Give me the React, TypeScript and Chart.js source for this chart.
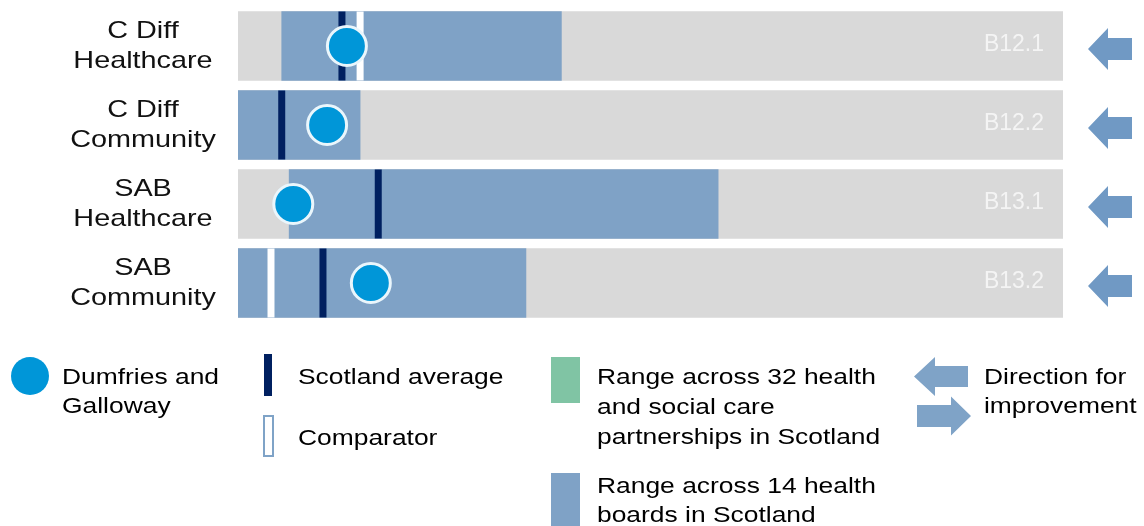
import { useEffect, useRef } from 'react';
import { Chart, registerables } from 'chart.js';

Chart.register(...registerables);

// Indicator rows
const categories: string[][] = [
  ['C Diff', 'Healthcare'],
  ['C Diff', 'Community'],
  ['SAB', 'Healthcare'],
  ['SAB', 'Community'],
];
const indicatorCodes = ['B12.1', 'B12.2', 'B13.1', 'B13.2'];

// Values on a common 0–100 scale
const scaleMin = 0;
const scaleMax = 100;
const boardRangeLow = [5.3, 0, 6.2, 0];
const boardRangeHigh = [39.2, 14.8, 58.2, 34.9];
const scotlandAverage = [12.6, 5.3, 17.0, 10.3];
const comparator: (number | null)[] = [14.8, null, null, 4.0];
const dumfriesGalloway = [13.2, 10.8, 6.7, 16.1];
// 'lower' = lower is better (arrow points left)
const improvementDirection = ['lower', 'lower', 'lower', 'lower'];

const FONT = '"Liberation Sans", Arial, Helvetica, sans-serif';
const TEXT_STRETCH = 1.2;

const COLORS = {
  track: '#d9d9d9',
  boardRange: '#7fa2c6',
  partnershipRange: '#80c4a4',
  average: '#002060',
  comparator: '#ffffff',
  dg: '#0096d8',
  dgBorder: '#eaf6fc',
  arrow: '#7099c4',
  legendArrow: '#7fa3c7',
  code: '#f4f4f4',
  text: '#111111',
};

function stretchedText(
  ctx: CanvasRenderingContext2D,
  text: string,
  x: number,
  y: number,
  size: number,
  align: CanvasTextAlign,
  color: string,
  sx = TEXT_STRETCH,
) {
  ctx.save();
  ctx.font = `${size}px ${FONT}`;
  ctx.fillStyle = color;
  ctx.textAlign = align;
  ctx.textBaseline = 'alphabetic';
  ctx.translate(x, y);
  ctx.scale(sx, 1);
  ctx.fillText(text, 0, 0);
  ctx.restore();
}

function drawArrow(
  ctx: CanvasRenderingContext2D,
  tipX: number,
  tailX: number,
  cy: number,
  headLen: number,
  headH: number,
  shaftH: number,
  color: string,
) {
  const dir = tailX > tipX ? 1 : -1;
  const back = tipX + dir * headLen;
  ctx.save();
  ctx.fillStyle = color;
  ctx.beginPath();
  ctx.moveTo(tipX, cy);
  ctx.lineTo(back, cy - headH / 2);
  ctx.lineTo(back, cy - shaftH / 2);
  ctx.lineTo(tailX, cy - shaftH / 2);
  ctx.lineTo(tailX, cy + shaftH / 2);
  ctx.lineTo(back, cy + shaftH / 2);
  ctx.lineTo(back, cy + headH / 2);
  ctx.closePath();
  ctx.fill();
  ctx.restore();
}

// Row labels, indicator codes, direction arrows and the key below the bars
const decorPlugin = {
  id: 'indicatorDecor',
  afterDraw(chart: any) {
    const { ctx } = chart;
    const x = chart.scales.x;
    const y = chart.scales.y;
    const right = x.getPixelForValue(scaleMax);

    categories.forEach((lines, i) => {
      const cy = y.getPixelForValue(i);
      lines.forEach((t, k) => stretchedText(ctx, t, 143, cy - 8 + k * 30, 24, 'center', COLORS.text));

      ctx.save();
      ctx.font = `23px ${FONT}`;
      ctx.fillStyle = COLORS.code;
      ctx.textAlign = 'right';
      ctx.textBaseline = 'alphabetic';
      ctx.fillText(indicatorCodes[i], right - 19, cy + 5);
      ctx.restore();

      const lower = improvementDirection[i] === 'lower';
      const ax0 = right + 25;
      const ax1 = right + 69;
      if (lower) drawArrow(ctx, ax0, ax1, cy + 3, 20, 42, 22, COLORS.arrow);
      else drawArrow(ctx, ax1, ax0, cy + 3, 20, 42, 22, COLORS.arrow);
    });

    // Key
    ctx.save();
    ctx.fillStyle = COLORS.dg;
    ctx.beginPath();
    ctx.arc(30, 376, 19, 0, Math.PI * 2);
    ctx.fill();

    ctx.fillStyle = COLORS.average;
    ctx.fillRect(264, 354, 8, 42);

    ctx.fillStyle = '#ffffff';
    ctx.fillRect(264, 416, 9, 40);
    ctx.strokeStyle = COLORS.legendArrow;
    ctx.lineWidth = 2;
    ctx.strokeRect(264, 416, 9, 40);

    ctx.fillStyle = COLORS.partnershipRange;
    ctx.fillRect(551, 357, 29, 46);
    ctx.fillStyle = COLORS.boardRange;
    ctx.fillRect(551, 473, 29, 60);
    ctx.restore();

    drawArrow(ctx, 914, 968, 376.5, 21, 39, 21, COLORS.legendArrow);
    drawArrow(ctx, 971, 917, 416, 20, 39, 22, COLORS.legendArrow);

    const keyText: [string, number, number][] = [
      ['Dumfries and', 62, 384],
      ['Galloway', 62, 413],
      ['Scotland average', 298, 384],
      ['Comparator', 298, 445],
      ['Range across 32 health', 597, 384],
      ['and social care', 597, 414],
      ['partnerships in Scotland', 597, 444],
      ['Range across 14 health', 597, 493],
      ['boards in Scotland', 597, 522],
      ['Direction for', 984, 384],
      ['improvement', 984, 413],
    ];
    keyText.forEach(([t, tx, ty]) => stretchedText(ctx, t, tx, ty, 22, 'left', '#000000'));
  },
};

export default function App() {
  const canvasRef = useRef<HTMLCanvasElement | null>(null);

  useEffect(() => {
    const canvas = canvasRef.current;
    if (!canvas) return;

    const chart = new Chart(canvas, {
      type: 'bar',
      data: {
        labels: categories as any,
        datasets: [
          {
            type: 'line',
            label: 'Dumfries and Galloway',
            data: dumfriesGalloway,
            showLine: false,
            pointStyle: 'circle',
            pointRadius: 19.5,
            pointBackgroundColor: COLORS.dg,
            pointBorderColor: COLORS.dgBorder,
            pointBorderWidth: 3,
            borderColor: COLORS.dg,
            backgroundColor: COLORS.dg,
            order: 0,
          } as any,
          {
            type: 'line',
            label: 'Scotland average',
            data: scotlandAverage,
            showLine: false,
            pointStyle: 'line',
            pointRotation: 90,
            pointRadius: 34.5,
            pointBorderColor: COLORS.average,
            pointBorderWidth: 7,
            borderColor: COLORS.average,
            backgroundColor: COLORS.average,
            order: 1,
          } as any,
          {
            type: 'line',
            label: 'Comparator',
            data: comparator,
            showLine: false,
            pointStyle: 'line',
            pointRotation: 90,
            pointRadius: 34.5,
            pointBorderColor: COLORS.comparator,
            pointBorderWidth: 7,
            borderColor: COLORS.comparator,
            backgroundColor: COLORS.comparator,
            order: 2,
          } as any,
          {
            type: 'bar',
            label: 'Range across 14 health boards in Scotland',
            data: boardRangeLow.map((lo, i) => [lo, boardRangeHigh[i]]),
            backgroundColor: COLORS.boardRange,
            grouped: false,
            barThickness: 69,
            order: 3,
          } as any,
          {
            type: 'bar',
            label: 'Scale',
            data: categories.map(() => [scaleMin, scaleMax]),
            backgroundColor: COLORS.track,
            grouped: false,
            barThickness: 69,
            order: 4,
          } as any,
        ],
      },
      options: {
        indexAxis: 'y',
        responsive: false,
        animation: false,
        events: [],
        layout: { autoPadding: false, padding: { left: 238, right: 81, top: 6.5, bottom: 203.5 } },
        scales: {
          x: { type: 'linear', min: scaleMin, max: scaleMax, display: false },
          y: { type: 'category', display: false, offset: true },
        },
        plugins: {
          legend: { display: false },
          tooltip: { enabled: false },
        },
      },
      plugins: [decorPlugin],
    });

    return () => chart.destroy();
  }, []);

  return (
    <div style={{ position: 'absolute', left: 0, top: 0, width: 1144, height: 526, background: '#ffffff' }}>
      <canvas ref={canvasRef} width={1144} height={526} style={{ display: 'block' }} />
    </div>
  );
}
